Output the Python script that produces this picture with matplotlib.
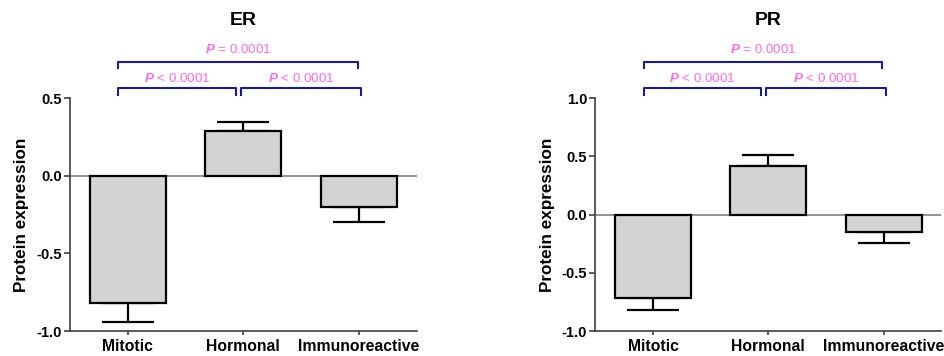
import matplotlib
matplotlib.use('Agg')
import matplotlib.pyplot as plt

plt.rcParams['font.family'] = ['Liberation Sans', 'DejaVu Sans']
plt.rcParams['mathtext.fontset'] = 'custom'
plt.rcParams['mathtext.it'] = 'Liberation Sans:italic:bold'
plt.rcParams['mathtext.rm'] = 'Liberation Sans'

groups = ['Mitotic', 'Hormonal', 'Immunoreactive']

er_mean = [-0.82, 0.29, -0.20]
er_sem = [0.12, 0.06, 0.10]
pr_mean = [-0.72, 0.42, -0.15]
pr_sem = [0.10, 0.09, 0.09]

er_ticks = [-1.0, -0.5, 0.0, 0.5]
pr_ticks = [-1.0, -0.5, 0.0, 0.5, 1.0]

# comparisons: (left group, right group, label, level)
comparisons = [(0, 1, '< 0.0001', 0), (1, 2, '< 0.0001', 0), (0, 2, '= 0.0001', 1)]

BRACKET = '#1c1c8f'
PTEXT = '#fa6ee6'


def panel(ax, title, means, sems, ticks):
    x = range(len(groups))
    ax.bar(x, means, width=0.66, color='#d3d3d3', edgecolor='black', linewidth=1.6, zorder=3)
    lower = [s if m < 0 else 0 for m, s in zip(means, sems)]
    upper = [s if m >= 0 else 0 for m, s in zip(means, sems)]
    ax.errorbar(x, means, yerr=[lower, upper], fmt='none', ecolor='black',
                elinewidth=1.6, capsize=19, capthick=1.6, zorder=2)
    ax.axhline(0, color='#808080', linewidth=1.2, zorder=1)
    ax.set_xlim(-0.5, 2.5)
    ax.set_ylim(ticks[0], ticks[-1])
    ax.set_yticks(ticks)
    ax.set_yticklabels(['%.1f' % t for t in ticks], fontweight='bold', fontsize=10.5)
    ax.set_xticks(list(x))
    ax.set_xticklabels(groups, fontweight='bold', fontsize=11.3)
    ax.set_ylabel('Protein expression', fontweight='bold', fontsize=12.3, labelpad=5)
    for s in ['top', 'right']:
        ax.spines[s].set_visible(False)
    for s in ['left', 'bottom']:
        ax.spines[s].set_color('#404040')
        ax.spines[s].set_linewidth(1.2)
    ax.tick_params(axis='y', length=4, color='#404040', width=1.2, pad=2)
    ax.tick_params(axis='x', length=3, color='#404040', width=1.2, pad=3)
    ax.set_title(title, fontweight='bold', fontsize=14, y=1.28)

    tr = ax.get_xaxis_transform()
    for a, b, label, level in comparisons:
        if level == 0:
            x0 = a - 0.08 if a == 0 else a - 0.02
            x1 = b - 0.06 if b == 1 else b + 0.02
            ytop, ybot, ytxt = 1.046, 1.014, 1.086
        else:
            x0, x1 = a - 0.08, b - 0.01
            ytop, ybot, ytxt = 1.156, 1.128, 1.21
        ax.plot([x0, x0, x1, x1], [ybot, ytop, ytop, ybot], color=BRACKET,
                linewidth=1.5, transform=tr, clip_on=False)
        ax.text((x0 + x1) / 2, ytxt, r'$P$ ' + label, color=PTEXT,
                fontsize=9.6, ha='center', va='center', transform=tr)


fig = plt.figure(figsize=(9.45, 3.56), dpi=100)
ax1 = fig.add_axes([0.074, 0.070, 0.367, 0.654])
ax2 = fig.add_axes([0.630, 0.070, 0.366, 0.654])
panel(ax1, 'ER', er_mean, er_sem, er_ticks)
panel(ax2, 'PR', pr_mean, pr_sem, pr_ticks)

fig.savefig('out.png', dpi=100)
